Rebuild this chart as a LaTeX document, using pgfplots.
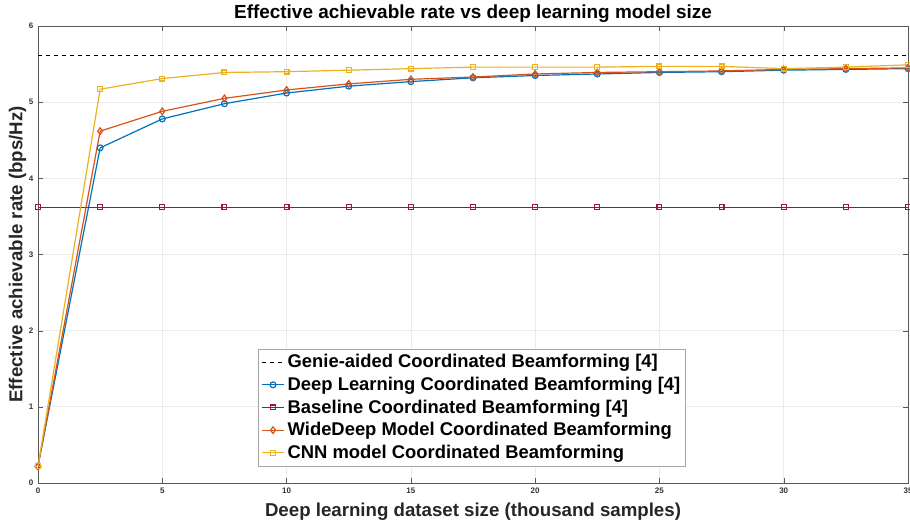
\documentclass[border=0pt]{standalone}
\usepackage{fontspec}
\setmainfont{Liberation Sans}
\usepackage{pgfplots}
\pgfplotsset{compat=1.18}
\definecolor{mblue}{rgb}{0,0.447,0.741}
\definecolor{morange}{rgb}{0.85,0.325,0.098}
\definecolor{myellow}{rgb}{0.929,0.694,0.125}
\definecolor{mred}{rgb}{0.635,0.078,0.184}
\begin{document}
\begin{tikzpicture}
\begin{axis}[
  scale only axis,
  width=652.5pt, height=342.75pt,
  xmin=0, xmax=35, ymin=0, ymax=6,
  xtick={0,5,...,35}, ytick={0,1,...,6},
  tick align=inside,
  major tick length=4pt,
  grid=major,
  grid style={gray!15, line width=0.5pt},
  axis line style={gray!70!black, line width=0.6pt},
  tick style={gray!70!black},
  /pgf/number format/assume math mode=true,
  ticklabel style={font=\fontsize{6}{7}\selectfont\bfseries, text=black!80},
  xlabel={\bfseries Deep learning dataset size (thousand samples)},
  ylabel={\bfseries Effective achievable rate (bps/Hz)},
  xlabel style={font=\fontsize{14}{16}\selectfont, text=black!85, yshift=0pt},
  ylabel style={font=\fontsize{14}{16}\selectfont, text=black!85, yshift=-5pt},
  title={\bfseries Effective achievable rate vs deep learning model size},
  title style={font=\fontsize{14.2}{16}\selectfont, yshift=-7pt},
  legend cell align=left,
  legend style={at={(rel axis cs:0.253,0.037)}, anchor=south west,
    font=\fontsize{13.8}{16}\selectfont\bfseries, draw=gray!70, fill=white,
    inner sep=2pt, row sep=1.5pt},
  every axis plot/.append style={line width=0.9pt},
]
\addplot[black, dashed, line width=0.8pt] coordinates {(0,5.61) (35,5.61)};
\addlegendentry{Genie-aided Coordinated Beamforming [4]}
\addplot[mblue, mark=o, mark size=2.2pt, mark options={fill=white, solid}] coordinates {
(0,0.22) (2.5,4.40) (5,4.78) (7.5,4.98) (10,5.12) (12.5,5.21) (15,5.27) (17.5,5.32)
(20,5.35) (22.5,5.37) (25,5.39) (27.5,5.40) (30,5.42) (32.5,5.43) (35,5.44)};
\addlegendentry{Deep Learning Coordinated Beamforming [4]}
\addplot[mred, mark=square, mark size=1.8pt, mark options={fill=white}] coordinates {
(0,3.62) (2.5,3.62) (5,3.62) (7.5,3.62) (10,3.62) (12.5,3.62) (15,3.62) (17.5,3.62)
(20,3.62) (22.5,3.62) (25,3.62) (27.5,3.62) (30,3.62) (32.5,3.62) (35,3.62)};
\addlegendentry{Baseline Coordinated Beamforming [4]}
\addplot[morange, mark=diamond, mark size=2.5pt, mark options={fill=white}] coordinates {
(0,0.22) (2.5,4.62) (5,4.88) (7.5,5.05) (10,5.16) (12.5,5.24) (15,5.30) (17.5,5.33)
(20,5.37) (22.5,5.39) (25,5.40) (27.5,5.41) (30,5.43) (32.5,5.44) (35,5.45)};
\addlegendentry{WideDeep Model Coordinated Beamforming}
\addplot[myellow, mark=square, mark size=1.8pt, mark options={fill=white}] coordinates {
(0,0.22) (2.5,5.17) (5,5.31) (7.5,5.39) (10,5.40) (12.5,5.42) (15,5.44) (17.5,5.46)
(20,5.46) (22.5,5.46) (25,5.47) (27.5,5.47) (30,5.44) (32.5,5.46) (35,5.49)};
\addlegendentry{CNN model Coordinated Beamforming}
\end{axis}
\pgfresetboundingbox
\path[use as bounding box] ([xshift=-28.5pt,yshift=-30.75pt]current axis.south west) rectangle ([xshift=1.5pt,yshift=19.5pt]current axis.north east);
\end{tikzpicture}
\end{document}
